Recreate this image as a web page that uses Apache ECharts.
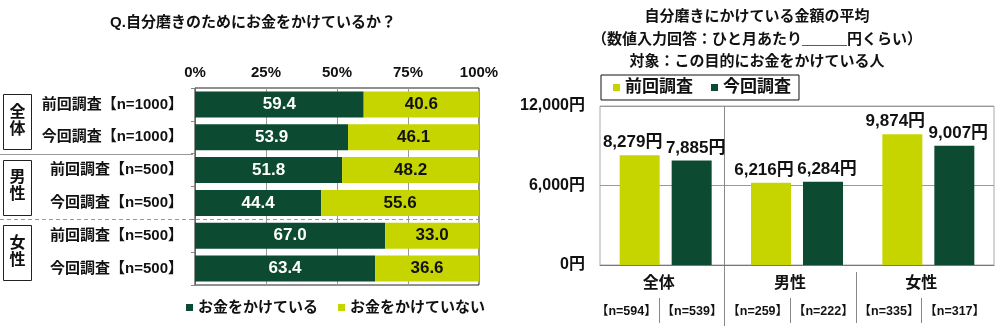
<!DOCTYPE html>
<html>
<head>
<meta charset="utf-8">
<script src="https://cdn.jsdelivr.net/npm/echarts@6/dist/echarts.min.js"></script>
<style>
html,body{margin:0;padding:0;background:#fff;}
#c{width:1000px;height:326px;}
</style>
</head>
<body>
<div id="c"></div>
<script>
// ---- data ----
const leftTitle = 'Q.自分磨きのためにお金をかけているか？';
const rowLabels = ['前回調査【n=1000】','今回調査【n=1000】','前回調査【n=500】','今回調査【n=500】','前回調査【n=500】','今回調査【n=500】'];
const groupLabels = ['全体','男性','女性'];
const spendYes = [59.4, 53.9, 51.8, 44.4, 67.0, 63.4];
const spendNo = [40.6, 46.1, 48.2, 55.6, 33.0, 36.6];
const leftSeriesNames = ['お金をかけている','お金をかけていない'];
const pctTicks = [0, 25, 50, 75, 100];

const rightTitleLines = ['自分磨きにかけている金額の平均','（数値入力回答：ひと月あたり＿＿＿円くらい）','対象：この目的にお金をかけている人'];
const rightSeriesNames = ['前回調査','今回調査'];
const prevAmount = [8279, 6216, 9874];
const currAmount = [7885, 6284, 9007];
const sampleLabels = ['【n=594】','【n=539】','【n=259】','【n=222】','【n=335】','【n=317】'];
const yenTicks = [0, 6000, 12000];

// ---- style ----
const FF = '"Liberation Sans","Noto Sans CJK JP",sans-serif';
const DARK = '#0c4b32';
const LIME = '#c6d500';
const TXT = '#111';
const gridL = {left:195, top:88, width:284, height:197};
const gridR = {left:600, top:106, width:394, height:159};

const chart = echarts.init(document.getElementById('c'), null, {renderer:'canvas'});

const fmtYen = v => Number(v).toLocaleString('en-US') + '円';

const option = {
  animation:false,
  backgroundColor:'#fff',
  textStyle:{fontFamily:FF},
  legend:[
    {data:leftSeriesNames, left:186, top:300, itemWidth:7, itemHeight:7, itemGap:20, icon:'rect',
     padding:0, textStyle:{fontSize:15, fontWeight:'bold', color:TXT, fontFamily:FF}},
    {data:rightSeriesNames, left:601, top:75, itemWidth:7, itemHeight:7, itemGap:18, icon:'rect',
     padding:[4,8,4,12], borderColor:'#111', borderWidth:1,
     textStyle:{fontSize:17, fontWeight:'bold', color:TXT, fontFamily:FF}}
  ],
  grid:[
    Object.assign({show:true, borderColor:'#222', borderWidth:1, containLabel:false}, gridL),
    Object.assign({show:true, borderColor:'#aaa', borderWidth:1, containLabel:false}, gridR)
  ],
  xAxis:[
    {gridIndex:0, type:'value', position:'top', min:pctTicks[0], max:pctTicks[pctTicks.length-1], interval:pctTicks[1]-pctTicks[0],
     axisLine:{show:false}, axisTick:{show:false},
     splitLine:{show:true, lineStyle:{color:'#999', width:1}},
     axisLabel:{formatter:'{value}%', margin:8, fontSize:15, fontWeight:'bold', color:TXT, fontFamily:FF}},
    {gridIndex:1, type:'category', data:groupLabels, position:'bottom',
     axisLine:{show:true, lineStyle:{color:'#777'}}, axisTick:{show:false},
     axisLabel:{margin:11, fontSize:16, fontWeight:'bold', color:TXT, fontFamily:FF, padding:[0,14,0,0]}},
    {gridIndex:1, type:'category', data:sampleLabels, position:'bottom', offset:0,
     axisLine:{show:false}, axisTick:{show:false},
     axisLabel:{margin:40, interval:0, hideOverlap:false, fontSize:12.5, fontWeight:'bold', color:TXT, fontFamily:FF, padding:[0,13,0,0]}}
  ],
  yAxis:[
    {gridIndex:0, type:'category', data:rowLabels, inverse:true,
     axisLine:{show:true, lineStyle:{color:'#666'}},
     axisTick:{show:true, length:4, lineStyle:{color:'#888'}},
     axisLabel:{margin:12, fontSize:15, fontWeight:'bold', color:TXT, fontFamily:FF}},
    {gridIndex:1, type:'value', min:yenTicks[0], max:yenTicks[yenTicks.length-1], interval:yenTicks[1]-yenTicks[0],
     axisLine:{show:false}, axisTick:{show:false},
     splitLine:{show:true, lineStyle:{color:'#999'}},
     axisLabel:{formatter:fmtYen, margin:15, fontSize:16, fontWeight:'bold', color:TXT, fontFamily:FF}}
  ],
  series:[
    {name:leftSeriesNames[0], type:'bar', stack:'s', xAxisIndex:0, yAxisIndex:0, data:spendYes, barWidth:26,
     itemStyle:{color:DARK},
     label:{show:true, position:'inside', formatter:p=>p.value.toFixed(1), color:'#fff', fontSize:17, fontWeight:'bold', fontFamily:FF}},
    {name:leftSeriesNames[1], type:'bar', stack:'s', xAxisIndex:0, yAxisIndex:0, data:spendNo, barWidth:26,
     itemStyle:{color:LIME},
     label:{show:true, position:'inside', formatter:p=>p.value.toFixed(1), color:TXT, fontSize:17, fontWeight:'bold', fontFamily:FF}},
    {name:rightSeriesNames[0], type:'bar', xAxisIndex:1, yAxisIndex:1, data:prevAmount, barWidth:40, barGap:'30%',
     itemStyle:{color:LIME},
     label:{show:true, position:'top', distance:4, offset:[-7,0], formatter:p=>fmtYen(p.value), color:TXT, fontSize:17, fontWeight:'bold', fontFamily:FF}},
    {name:rightSeriesNames[1], type:'bar', xAxisIndex:1, yAxisIndex:1, data:currAmount, barWidth:40, barGap:'30%',
     itemStyle:{color:DARK},
     label:{show:true, position:'top', distance:4, offset:[4,0], formatter:p=>fmtYen(p.value), color:TXT, fontSize:17, fontWeight:'bold', fontFamily:FF}}
  ]
};
chart.setOption(option);

// ---- decorations (titles, group boxes, separators) ----
const g = [];
g.push({type:'text', x:253, y:23, style:{text:leftTitle, font:'bold 15px '+FF, fill:TXT, textAlign:'center', textVerticalAlign:'middle'}});
rightTitleLines.forEach((t,i)=>{
  g.push({type:'text', x:757, y:17+i*22.5, style:{text:t, font:'bold 15px '+FF, fill:TXT, textAlign:'center', textVerticalAlign:'middle'}});
});
const bandL = gridL.height / rowLabels.length;
groupLabels.forEach((lab,i)=>{
  const cy = gridL.top + bandL*(2*i+1);
  g.push({type:'rect', shape:{x:3.5, y:Math.round(cy-27)+0.5, width:28, height:55}, style:{fill:'#fff', stroke:'#222', lineWidth:1}});
  g.push({type:'text', x:17.5, y:cy, style:{text:lab.split('').join('\n'), font:'bold 16px '+FF, lineHeight:17, fill:TXT, textAlign:'center', textVerticalAlign:'middle'}});
});
const ySolid = Math.round(gridL.top + bandL*2)+0.5;
const yDash = Math.round(gridL.top + bandL*4)+0.5;
g.push({type:'line', shape:{x1:0, y1:ySolid, x2:gridL.left-2, y2:ySolid}, style:{stroke:'#999', lineWidth:1}});
g.push({type:'line', shape:{x1:0, y1:yDash, x2:gridL.left+gridL.width, y2:yDash}, style:{stroke:'#999', lineWidth:1, lineDash:[4,3]}});

const bandR = gridR.width / groupLabels.length;
const shift = -7;
const xb1 = Math.round(gridR.left + bandR + shift)+0.5;
const xb2 = Math.round(gridR.left + 2*bandR + shift)+0.5;
g.push({type:'line', shape:{x1:xb1, y1:gridR.top, x2:xb1, y2:326}, style:{stroke:'#888', lineWidth:1}});
g.push({type:'line', shape:{x1:xb2, y1:272, x2:xb2, y2:323}, style:{stroke:'#888', lineWidth:1}});
for (let i=0;i<groupLabels.length;i++){
  const xc = Math.round(gridR.left + bandR*(i+0.5) + shift)+0.5;
  g.push({type:'line', shape:{x1:xc, y1:298, x2:xc, y2:323}, style:{stroke:'#888', lineWidth:1}});
}
chart.setOption({graphic:{elements:g}});
</script>
</body>
</html>
